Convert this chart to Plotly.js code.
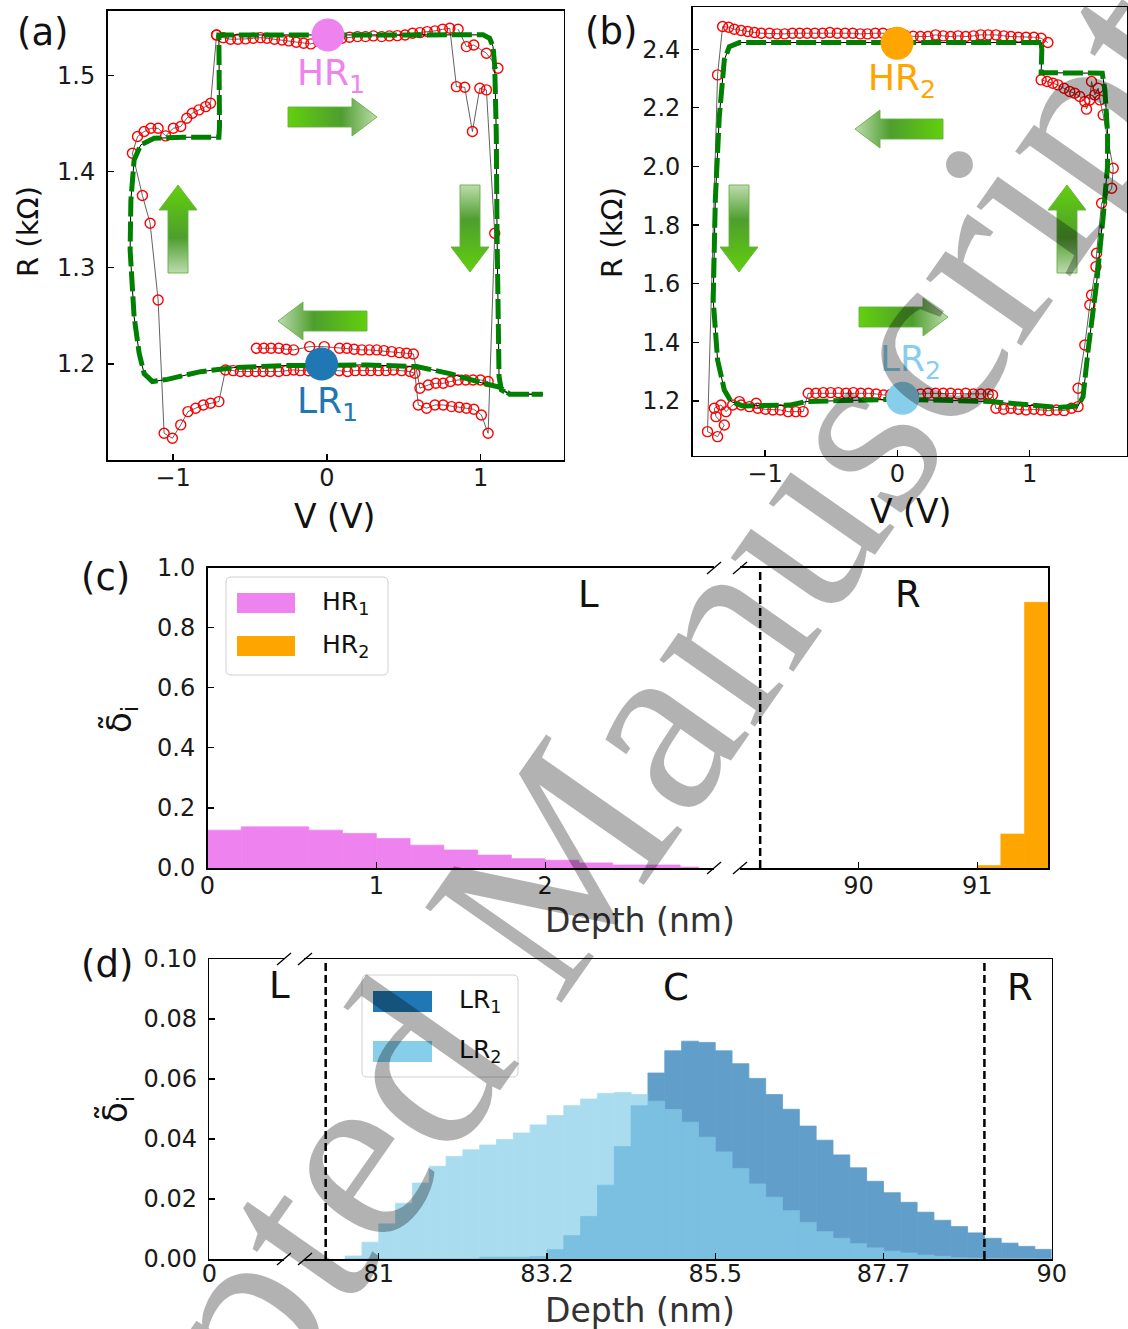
<!DOCTYPE html>
<html>
<head>
<meta charset="utf-8">
<script src="https://cdn.plot.ly/plotly-3.0.1.min.js"></script>
<style>html,body{margin:0;padding:0;background:#fff;}#chart{width:1128px;height:1329px;}</style>
</head>
<body>
<div id="chart"></div>
<script>
// ================= DATA =================
// Panel (a): experimental R-V loop (V in volts, R in kOhm); [null,null] separates sweeps
const aExp = [
 [-0.717,1.5419],[-0.674,1.5391],[-0.626,1.5374],[-0.579,1.5374],[-0.529,1.5378],[-0.479,1.5384],[-0.432,1.5391],[-0.389,1.5384],
 [-0.341,1.5374],[-0.292,1.5367],[-0.248,1.5357],[-0.199,1.5343],[-0.151,1.5333],[-0.104,1.5326],[-0.054,1.535],[0.0,1.537],
 [0.043,1.5374],[0.097,1.5384],[0.147,1.5395],[0.199,1.5402],[0.251,1.5402],[0.302,1.5409],[0.356,1.5402],[0.406,1.5409],
 [0.458,1.5412],[0.508,1.5419],[0.557,1.5437],[0.605,1.5443],[0.652,1.5454],[0.702,1.5461],[0.752,1.5478],[0.799,1.5488],
 [0.842,1.4882],[0.896,1.4875],[0.946,1.4415],[0.994,1.4865],[1.037,1.4848],[1.091,1.3358],[1.048,1.128],
 [1.004,1.147],[0.955,1.1529],[0.907,1.154],[0.860,1.155],[0.810,1.1557],[0.756,1.1574],[0.702,1.1574],[0.648,1.154],[0.594,1.1574],
 [0.572,1.1903],[0.540,1.1921],[0.486,1.1931],[0.432,1.1938],[0.384,1.1931],[0.335,1.1931],[0.285,1.1931],[0.238,1.1931],
 [0.184,1.1931],[0.134,1.1921],[0.08,1.193],[0.02,1.193],[-0.05,1.193],[-0.12,1.193],[-0.173,1.1931],[-0.216,1.1938],
 [-0.264,1.1931],[-0.313,1.1921],[-0.367,1.1921],[-0.415,1.1921],[-0.464,1.1921],[-0.514,1.1921],[-0.562,1.1921],[-0.609,1.1931],[-0.659,1.1938],
 [-0.702,1.1609],[-0.756,1.1592],[-0.803,1.1574],[-0.853,1.154],[-0.903,1.1505],[-0.950,1.1367],[-1.004,1.1228],[-1.058,1.128],
 [-1.097,1.2665],[-1.149,1.3462],[-1.199,1.375],[-1.264,1.4189],
 [-1.231,1.4363],[-1.188,1.4415],[-1.145,1.4449],[-1.097,1.4449],[-1.048,1.437],[-0.998,1.4449],[-0.950,1.4467],[-0.911,1.4553],
 [-0.875,1.4605],[-0.832,1.464],[-0.788,1.4674],[-0.756,1.4709],[-0.717,1.5419],
 [null,null],
 [1.048,1.1817],[0.998,1.1834],[0.950,1.1834],[0.903,1.1834],[0.853,1.1834],[0.803,1.1817],[0.756,1.1799],[0.708,1.1799],[0.659,1.1782],[0.605,1.1748],
 [0.562,1.2104],[0.518,1.2111],[0.471,1.2118],[0.421,1.2128],[0.371,1.2139],[0.324,1.2146],[0.276,1.2146],[0.227,1.2146],[0.177,1.2153],
 [0.130,1.2163],[0.082,1.2163],[-0.017,1.218],[-0.112,1.218],[-0.216,1.2146],[-0.264,1.2153],[-0.313,1.2163],[-0.363,1.2163],[-0.410,1.2163],[-0.458,1.2163],
 [null,null],
 [0.853,1.5478],[0.907,1.5298],[0.955,1.5315],[1.037,1.5229],[1.112,1.5073]
];
// Panel (a): simulated loop
const aSim = [
 [0,1.5419],[0.5,1.542],[1.015,1.542],[1.058,1.5384],[1.080,1.5298],[1.091,1.509],[1.101,1.440],[1.106,1.336],[1.112,1.232],
 [1.119,1.187],[1.134,1.173],[1.188,1.1685],[1.404,1.1685],[1.188,1.1688],[1.12,1.176],[1.015,1.180],[0.799,1.190],[0.583,1.1973],
 [0.259,1.199],[0,1.199],[-0.281,1.1983],[-0.605,1.1962],[-0.821,1.192],[-1.037,1.184],[-1.134,1.1817],[-1.188,1.190],[-1.220,1.211],
 [-1.253,1.249],[-1.279,1.3185],[-1.274,1.370],[-1.253,1.412],[-1.210,1.4276],[-1.123,1.4345],[-0.929,1.4356],[-0.702,1.4356],
 [-0.698,1.4467],[-0.702,1.5419],[0,1.5419]
];
// Panel (b): experimental loop
const bExp = [
 [1.138,2.4227],[1.087,2.4375],[1.032,2.4409],[0.973,2.4409],[0.915,2.4409],[0.859,2.4432],[0.804,2.4455],[0.745,2.4489],[0.687,2.4489],
 [0.631,2.4489],[0.575,2.4455],[0.517,2.4432],[0.459,2.4455],[0.403,2.4432],[0.347,2.4455],[0.289,2.4489],[0.231,2.4432],[0.175,2.4432],
 [0.12,2.444],[0.06,2.447],[-0.05,2.452],[-0.109,2.4546],[-0.167,2.4546],[-0.226,2.4523],[-0.281,2.4523],[-0.337,2.4546],[-0.395,2.4546],
 [-0.454,2.4546],[-0.510,2.4569],[-0.565,2.4546],[-0.624,2.4546],[-0.682,2.4546],[-0.738,2.4546],[-0.793,2.4546],[-0.852,2.4523],
 [-0.910,2.4523],[-0.966,2.4546],[-1.029,2.4546],[-1.08,2.457],[-1.131,2.4603],[-1.181,2.4637],[-1.232,2.4682],[-1.275,2.4751],[-1.321,2.4773],
 [-1.359,2.3124],
 [-1.435,1.0954],[-1.359,1.0783],[-1.308,1.1182],[-1.371,1.1466],[-1.384,1.175],[-1.333,1.1864],[-1.295,1.1636],
 [-1.245,1.1864],[-1.194,1.1978],[-1.181,1.1864],[-1.118,1.1807],[-1.067,1.1921],[-1.055,1.175],[-0.997,1.1716],[-0.941,1.1693],
 [-0.885,1.1693],[-0.826,1.1637],[-0.768,1.1637],[-0.712,1.1637],
 [-0.674,1.2262],[-0.616,1.2262],[-0.560,1.2285],[-0.504,1.2285],[-0.446,1.2285],[-0.388,1.2262],[-0.332,1.2285],[-0.276,1.2262],
 [-0.218,1.2262],[-0.160,1.2239],[-0.104,1.2205],[-0.05,1.222],[0.05,1.222],[0.12,1.223],[0.175,1.2239],[0.231,1.2262],[0.289,1.2262],
 [0.347,1.2262],[0.403,1.2262],[0.459,1.2239],[0.517,1.2262],[0.575,1.2239],[0.631,1.2239],[0.687,1.2239],[0.720,1.2205],
 [0.745,1.175],[0.804,1.1716],[0.859,1.175],[0.915,1.1716],[0.973,1.1693],[1.032,1.1716],[1.087,1.1693],[1.143,1.167],[1.202,1.1693],
 [1.260,1.167],[1.316,1.175],[1.366,1.1807],
 [1.366,1.2433],[1.417,1.3911],[1.455,1.5276],[1.468,1.5617],[1.501,1.6584],[1.506,1.7039],[1.544,1.8745],[1.620,1.9257],[1.632,1.9939],
 [1.556,2.1759],[1.531,2.2271],[1.518,2.2669],[1.493,2.2442],[1.468,2.2897],[1.455,2.2271],[1.430,2.1956],[1.417,2.2214],[1.379,2.2385],
 [1.341,2.2499],[1.303,2.2556],[1.260,2.2669],[1.214,2.2783],[1.176,2.284],[1.133,2.2897],[1.087,2.2954]
];
// Panel (b): simulated loop
const bSim = [
 [1.087,2.4227],[0,2.4227],[-1.194,2.4227],[-1.27,2.409],[-1.308,2.3636],[-1.346,2.17],[-1.376,1.886],[-1.392,1.545],[-1.359,1.34],
 [-1.308,1.2376],[-1.257,1.198],[-1.169,1.183],[-0.814,1.186],[-0.687,1.198],[-0.307,1.2035],[0,1.206],[0.707,1.198],[0.961,1.186],
 [1.214,1.178],[1.366,1.183],[1.404,1.215],[1.442,1.374],[1.506,1.601],[1.556,1.829],[1.589,2.0],[1.589,2.113],[1.569,2.261],
 [1.549,2.318],[1.087,2.32],[1.092,2.398],[1.087,2.4227]
];
// Resistance states marked on the loops
const stateNames = ['HR<sub>1</sub>','LR<sub>1</sub>','HR<sub>2</sub>','LR<sub>2</sub>'];
const stateV = [0.007,-0.034,-0.002,0.04];
const stateR = [1.5419,1.2,2.4205,1.209];
const stateColors = ['#ee82ee','#1f77b4','#ffa500','#87ceeb'];

// Panel (c): vacancy distribution, high-resistance states
const cHR1Left  = [0,0.2,0.4,0.6,0.8,1.0,1.2,1.4,1.6,1.8,2.0,2.2,2.4,2.6,2.8];
const cHR1Width = [0.2,0.2,0.2,0.2,0.2,0.2,0.2,0.2,0.2,0.2,0.2,0.2,0.2,0.2,0.11];
const cHR1      = [0.126,0.137,0.137,0.126,0.115,0.098,0.076,0.060,0.043,0.031,0.026,0.017,0.010,0.010,0.003];
const cHR2Left  = [91.0,91.2,91.4];
const cHR2      = [0.008,0.113,0.884];
const cBinWidth = 0.2;

// Panel (d): vacancy distribution, low-resistance states
const dBinLeft = [80.55,80.775,81.0,81.225,81.45,81.675,81.9,82.125,82.35,82.575,82.8,83.025,83.25,83.475,83.7,83.925,84.15,84.375,
 84.6,84.825,85.05,85.275,85.5,85.725,85.95,86.175,86.4,86.625,86.85,87.075,87.3,87.525,87.75,87.975,88.2,88.425,88.65,88.875,
 89.1,89.325,89.55,89.775];
const dLR1 = [0,0,0,0,0,0,0,0,0.0006,0.0006,0.0006,0.0008,0.0031,0.0078,0.0142,0.0246,0.0375,0.0511,
 0.062,0.0694,0.0726,0.0722,0.0694,0.0651,0.0602,0.0548,0.0499,0.0443,0.0396,0.0347,0.0304,0.0259,0.0221,0.0189,0.0156,0.0129,
 0.0108,0.0087,0.0069,0.0053,0.0042,0.0032];
const dLR2 = [0.001,0.0056,0.0117,0.0186,0.0253,0.0309,0.0342,0.0364,0.038,0.0398,0.042,0.0447,0.0478,0.0511,0.0533,0.0552,0.0555,0.0548,
 0.0526,0.0498,0.0456,0.0406,0.0357,0.0302,0.025,0.0206,0.0161,0.0122,0.0091,0.0069,0.0051,0.0037,0.0026,0.002,0.0013,0.0009,
 0.0004,0.0003,0.0002,0.0001,0.0001,0];
const dBinWidth = 0.225;
const dTickVals = [81,83.25,85.5,87.75,90];
const dTickText = ['81','83.2','85.5','87.7','90'];
const cBoundary = [89.17];          // L | R boundary in (c)
const dBoundary = [80.29,89.1];     // L | C | R boundaries in (d)

// ================= HELPERS =================
const W = 1128, H = 1329;
const PX = x => x / W, PY = y => 1 - y / H;
const col = (arr, i) => arr.map(p => p[i]);

function axis(o) {
  return Object.assign({
    showgrid:false, zeroline:false, showline:true, linecolor:'#000', linewidth:1.5,
    ticks:'inside', ticklen:6, tickwidth:1.3, tickcolor:'#000', fixedrange:true,
    tickfont:{family:'DejaVu Sans', size:24, color:'#1a1a1a'}
  }, o);
}
function T(text, x, y, size, extra) {
  return Object.assign({
    text:text, x:PX(x), y:PY(y), xref:'paper', yref:'paper', showarrow:false,
    xanchor:'center', yanchor:'middle', font:{family:'DejaVu Sans', size:size, color:'#111'}
  }, extra || {});
}

// ================= TRACES =================
const traces = [];
function loop(exp, sim, xa, ya) {
  traces.push({type:'scatter', mode:'lines+markers', x:col(exp,0), y:col(exp,1), xaxis:xa, yaxis:ya,
    line:{color:'#3a3a3a', width:0.8}, marker:{symbol:'circle-open', size:10, color:'#ff0000', line:{width:1.4, color:'#ff0000'}},
    hoverinfo:'skip'});
  traces.push({type:'scatter', mode:'lines', x:col(sim,0), y:col(sim,1), xaxis:xa, yaxis:ya,
    line:{color:'#000', width:1}, hoverinfo:'skip'});
  traces.push({type:'scatter', mode:'lines', x:col(sim,0), y:col(sim,1), xaxis:xa, yaxis:ya,
    line:{color:'#008000', width:5, dash:'20px,5px'}, hoverinfo:'skip'});
}
loop(aExp, aSim, 'x', 'y');
loop(bExp, bSim, 'x2', 'y2');
[0,1].forEach(i => traces.push({type:'scatter', mode:'markers', x:[stateV[i]], y:[stateR[i]], xaxis:'x', yaxis:'y',
  marker:{size:33, color:stateColors[i]}, hoverinfo:'skip'}));
[2,3].forEach(i => traces.push({type:'scatter', mode:'markers', x:[stateV[i]], y:[stateR[i]], xaxis:'x2', yaxis:'y2',
  marker:{size:33, color:stateColors[i]}, hoverinfo:'skip'}));

// (c) histograms
traces.push({type:'bar', x:cHR1Left, y:cHR1, width:cHR1Width, offset:0, xaxis:'x3', yaxis:'y3',
  marker:{color:'#ee82ee', line:{width:0.7, color:'#ee82ee'}}, hoverinfo:'skip'});
traces.push({type:'bar', x:cHR2Left, y:cHR2, width:cHR2Left.map(() => cBinWidth), offset:0, xaxis:'x4', yaxis:'y4',
  marker:{color:'#ffa500', line:{width:0.7, color:'#ffa500'}}, hoverinfo:'skip'});
// (d) left (empty) segment of the broken axis
traces.push({type:'scatter', mode:'markers', x:[null], y:[null], xaxis:'x5', yaxis:'y5', hoverinfo:'skip'});
// (d) histograms
traces.push({type:'bar', x:dBinLeft, y:dLR1, width:dBinLeft.map(() => dBinWidth), offset:0, xaxis:'x6', yaxis:'y6',
  marker:{color:'#1f77b4', line:{width:0.8, color:'#1f77b4'}}, opacity:0.7, hoverinfo:'skip'});
traces.push({type:'bar', x:dBinLeft, y:dLR2, width:dBinLeft.map(() => dBinWidth), offset:0, xaxis:'x6', yaxis:'y6',
  marker:{color:'#87ceeb', line:{width:0.8, color:'#87ceeb'}}, opacity:0.7, hoverinfo:'skip'});

// Decorative sweep-direction arrows (page pixel coordinates: tail -> tip)
const arrows = [
  {tail:[288,117], tip:[377,117]}, {tail:[470,185], tip:[470,272]},
  {tail:[367,321], tip:[278,321]}, {tail:[178,273], tip:[178,185]},
  {tail:[943,129], tip:[855,129]}, {tail:[739,185], tip:[739,272]},
  {tail:[859,317], tip:[948,317]}, {tail:[1067,273], tip:[1067,185]}
];
const BR = '#62d00c', MID = '#4e9e2e', PALE = '#bddcae';
arrows.forEach(a => {
  const [tx,ty] = a.tail, [px,py] = a.tip;
  const dx = px-tx, dy = py-ty, L = Math.hypot(dx,dy), ux = dx/L, uy = dy/L, nx = -uy, ny = ux;
  const bh = 10, hh = 19, hl = 25;
  const bx = px-ux*hl, by = py-uy*hl;
  const pts = [[tx+nx*bh,ty+ny*bh],[bx+nx*bh,by+ny*bh],[bx+nx*hh,by+ny*hh],[px,py],
               [bx-nx*hh,by-ny*hh],[bx-nx*bh,by-ny*bh],[tx-nx*bh,ty-ny*bh],[tx+nx*bh,ty+ny*bh]];
  const horiz = Math.abs(dx) > Math.abs(dy);
  const forward = horiz ? (px > tx) : (py > ty);
  const cs = forward ? [[0,BR],[0.6,MID],[1,PALE]] : [[0,PALE],[0.4,MID],[1,BR]];
  traces.push({type:'scatter', mode:'lines', x:pts.map(p=>p[0]), y:pts.map(p=>p[1]), xaxis:'x7', yaxis:'y7',
    fill:'toself', fillcolor:MID, fillgradient:{type: horiz ? 'horizontal' : 'vertical', colorscale:cs},
    line:{color:'rgba(105,175,70,0.9)', width:1}, hoverinfo:'skip'});
});

// ================= SHAPES =================
const shapes = [];
cBoundary.forEach(v => shapes.push({type:'line', xref:'x4', yref:'y4 domain', x0:v, x1:v, y0:0, y1:1,
  line:{color:'#000', width:2.5, dash:'8px,4px'}}));
dBoundary.forEach(v => shapes.push({type:'line', xref:'x6', yref:'y6 domain', x0:v, x1:v, y0:0, y1:1,
  line:{color:'#000', width:2.5, dash:'8px,4px'}}));
// axis-break marks
[[714,568],[740,568],[714,868],[740,868],[284,959],[305,959],[284,1259],[305,1259]].forEach(([x,y]) =>
  shapes.push({type:'line', xref:'paper', yref:'paper', x0:PX(x-7), y0:PY(y+6), x1:PX(x+7), y1:PY(y-6),
    line:{color:'#000', width:1.3}}));
// legends (matplotlib-style boxes)
function rbox(x0,y0,x1,y1,r) {
  const X = PX, Y = PY;
  return `M ${X(x0+r)},${Y(y0)} L ${X(x1-r)},${Y(y0)} Q ${X(x1)},${Y(y0)} ${X(x1)},${Y(y0+r)} L ${X(x1)},${Y(y1-r)} ` +
         `Q ${X(x1)},${Y(y1)} ${X(x1-r)},${Y(y1)} L ${X(x0+r)},${Y(y1)} Q ${X(x0)},${Y(y1)} ${X(x0)},${Y(y1-r)} ` +
         `L ${X(x0)},${Y(y0+r)} Q ${X(x0)},${Y(y0)} ${X(x0+r)},${Y(y0)} Z`;
}
shapes.push({type:'path', xref:'paper', yref:'paper', path:rbox(226,577,388,675,5), fillcolor:'rgba(255,255,255,0.85)', line:{color:'#d0d0d0', width:1}});
shapes.push({type:'path', xref:'paper', yref:'paper', path:rbox(362,975,518,1077,5), fillcolor:'rgba(255,255,255,0.85)', line:{color:'#d0d0d0', width:1}});
const legendPatches = [
  [237,593,295,613,'#ee82ee'], [237,636,295,656,'#ffa500'],
  [373,991,432,1012,'#1f77b4'], [373,1041,432,1062,'#87ceeb']
];
legendPatches.forEach(([x0,y0,x1,y1,c]) => shapes.push({type:'rect', xref:'paper', yref:'paper',
  x0:PX(x0), x1:PX(x1), y0:PY(y1), y1:PY(y0), fillcolor:c, line:{width:0}}));

// ================= ANNOTATIONS =================
const annotations = [
  T('(a)', 43, 33, 37), T('(b)', 611, 32, 37), T('(c)', 105, 577, 37), T('(d)', 107, 964, 37),
  T('R (kΩ)', 28, 232, 29, {textangle:-90}), T('R (kΩ)', 612, 233, 29, {textangle:-90}),
  T('V (V)', 334, 516, 33), T('V (V)', 910, 511, 33),
  T('Depth (nm)', 640, 920, 33, {font:{family:'DejaVu Sans', size:33, color:'#333'}}),
  T('Depth (nm)', 640, 1310, 33, {font:{family:'DejaVu Sans', size:33, color:'#333'}}),
  T('δ̃<sub>i</sub>', 121, 720, 34, {textangle:-90}), T('δ̃<sub>i</sub>', 117, 1110, 34, {textangle:-90}),
  T('L', 588, 594, 37), T('R', 908, 594, 37),
  T('L', 279, 986, 37), T('C', 676, 987, 37), T('R', 1020, 987, 37),
  T(stateNames[0], 331, 75, 36, {font:{family:'DejaVu Sans', size:36, color:stateColors[0]}}),
  T(stateNames[1], 327, 404, 36, {font:{family:'DejaVu Sans', size:36, color:stateColors[1]}}),
  T(stateNames[2], 902, 81, 36, {font:{family:'DejaVu Sans', size:36, color:stateColors[2]}}),
  T(stateNames[3], 910, 362, 36, {font:{family:'DejaVu Sans', size:36, color:stateColors[3]}}),
  T('HR<sub>1</sub>', 320, 603, 25, {xanchor:'left'}), T('HR<sub>2</sub>', 320, 646, 25, {xanchor:'left'}),
  T('LR<sub>1</sub>', 457, 1001, 25, {xanchor:'left'}), T('LR<sub>2</sub>', 457, 1051, 25, {xanchor:'left'}),
  T('Accepted Manuscript', 525, 905, 254, {textangle:-55, font:{family:'Liberation Serif', size:254, color:'rgba(0,0,0,0.3)'}})
];

// ================= LAYOUT =================
const XS = -4, XSD = -7, YS = 6;
const layout = {
  width:W, height:H, margin:{l:0,r:0,t:0,b:0}, showlegend:false,
  paper_bgcolor:'#ffffff', plot_bgcolor:'rgba(0,0,0,0)', barmode:'overlay',
  font:{family:'DejaVu Sans', color:'#111'},
  xaxis: axis({domain:[PX(107.5),PX(563.5)], range:[-1.426,1.538], tickvals:[-1,0,1], mirror:true, anchor:'y', ticklabelstandoff:XS}),
  yaxis: axis({domain:[PY(460),PY(10.7)], range:[1.1002,1.5671], tickvals:[1.2,1.3,1.4,1.5], tickformat:'.1f', mirror:true, anchor:'x', ticklabelstandoff:YS}),
  xaxis2: axis({domain:[PX(692.7),PX(1127)], range:[-1.547,1.736], tickvals:[-1,0,1], mirror:true, anchor:'y2', ticklabelstandoff:XS}),
  yaxis2: axis({domain:[PY(455.5),PY(7.3)], range:[1.014,2.543], tickvals:[1.2,1.4,1.6,1.8,2.0,2.2,2.4], tickformat:'.1f', mirror:true, anchor:'x2', ticklabelstandoff:YS}),
  xaxis3: axis({domain:[PX(207.5),PX(714)], range:[0,3.0], tickvals:[0,1,2], mirror:true, anchor:'y3', ticklabelstandoff:XS}),
  yaxis3: axis({domain:[PY(868),PY(567.5)], range:[0,1.0], tickvals:[0,0.2,0.4,0.6,0.8,1.0], tickformat:'.1f', anchor:'x3', ticklabelstandoff:YS}),
  xaxis4: axis({domain:[PX(740),PX(1048.3)], range:[89.0,91.6], tickvals:[90,91], mirror:true, anchor:'y4', ticklabelstandoff:XS}),
  yaxis4: axis({domain:[PY(868),PY(567.5)], range:[0,1.0], side:'right', ticks:'', showticklabels:false, anchor:'x4'}),
  xaxis5: axis({domain:[PX(209.3),PX(284)], range:[0,1], tickvals:[0], mirror:true, anchor:'y5', ticklabelstandoff:XSD}),
  yaxis5: axis({domain:[PY(1259),PY(959)], range:[0,0.1], tickvals:[0,0.02,0.04,0.06,0.08,0.1], tickformat:'.2f', anchor:'x5', ticklabelstandoff:YS}),
  xaxis6: axis({domain:[PX(304),PX(1051.7)], range:[80,90], tickvals:dTickVals, ticktext:dTickText, mirror:true, anchor:'y6', ticklabelstandoff:XSD}),
  yaxis6: axis({domain:[PY(1259),PY(959)], range:[0,0.1], side:'right', ticks:'', showticklabels:false, anchor:'x6'}),
  xaxis7: {domain:[0,1], range:[0,W], visible:false, fixedrange:true, anchor:'y7'},
  yaxis7: {domain:[0,1], range:[H,0], visible:false, fixedrange:true, anchor:'x7'},
  shapes: shapes,
  annotations: annotations
};

Plotly.newPlot('chart', traces, layout, {staticPlot:true, displayModeBar:false});
</script>
</body>
</html>
